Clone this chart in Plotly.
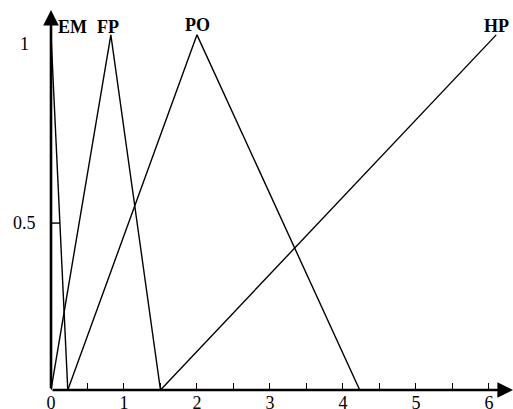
import plotly.graph_objects as go

# Membership functions (x breakpoints, y membership)
em_x = [0, 0.23]
em_y = [1, 0]
fp_x = [0, 0.82, 1.5]
fp_y = [0, 1, 0]
po_x = [0.23, 2.0, 4.23]
po_y = [0, 1, 0]
hp_x = [1.5, 6.1]
hp_y = [0, 1]

series_names = ["EM", "FP", "PO", "HP"]
label_x = [0.29, 0.78, 2.01, 6.1]
label_y = [1.022, 1.022, 1.028, 1.026]

x_tick_vals = [0, 1, 2, 3, 4, 5, 6]
x_tick_text = ["0", "1", "2", "3", "4", "5", "6"]
y_tick_vals = [0.47, 0.975]
y_tick_text = ["0.5", "1"]

X_MAX = 6.33
Y_MAX = 1.07
FONT = "Liberation Serif"

fig = go.Figure()
for xs, ys in [(em_x, em_y), (fp_x, fp_y), (po_x, po_y), (hp_x, hp_y)]:
    fig.add_trace(go.Scatter(x=xs, y=ys, mode="lines",
                             line=dict(color="black", width=1.4),
                             cliponaxis=False, showlegend=False, hoverinfo="skip"))

annotations = []
# axis arrows
annotations.append(dict(x=X_MAX, y=0, ax=0, ay=0, xref="x", yref="y", axref="x", ayref="y",
                        text="", showarrow=True, arrowhead=2, arrowsize=1.2, arrowwidth=2.6,
                        arrowcolor="black"))
annotations.append(dict(x=0, y=Y_MAX, ax=0, ay=0, xref="x", yref="y", axref="x", ayref="y",
                        text="", showarrow=True, arrowhead=2, arrowsize=1.2, arrowwidth=2.6,
                        arrowcolor="black"))
for name, lx, ly in zip(series_names, label_x, label_y):
    annotations.append(dict(x=lx, y=ly, xref="x", yref="y", text="<b>%s</b>" % name,
                            showarrow=False, xanchor="center", yanchor="middle",
                            font=dict(family=FONT, size=18, color="black")))
for v, t in zip(y_tick_vals, y_tick_text):
    annotations.append(dict(x=-0.058, y=v, xref="paper", yref="y", text=t, showarrow=False,
                            xanchor="center", yanchor="middle",
                            font=dict(family=FONT, size=18, color="black")))

shapes = [dict(type="line", xref="x", yref="y", x0=0, x1=0.12, y0=y_tick_vals[0], y1=y_tick_vals[0],
               line=dict(color="black", width=1.4))]

fig.update_layout(
    width=513, height=409,
    margin=dict(l=51, r=0, t=10, b=19),
    paper_bgcolor="white", plot_bgcolor="white",
    annotations=annotations, shapes=shapes,
    xaxis=dict(range=[0, X_MAX], showgrid=False, zeroline=False, showline=False,
               tickvals=x_tick_vals, ticktext=x_tick_text, ticks="inside", ticklen=7,
               tickwidth=1.4, tickcolor="black",
               minor=dict(dtick=0.5, tick0=0, ticks="inside", ticklen=7, tickwidth=1.4,
                          tickcolor="black", showgrid=False),
               tickfont=dict(family=FONT, size=18, color="black"), automargin=False),
    yaxis=dict(range=[0, Y_MAX], showgrid=False, zeroline=False, showline=False,
               showticklabels=False, ticks="", automargin=False),
)

fig.write_html("out.html")
